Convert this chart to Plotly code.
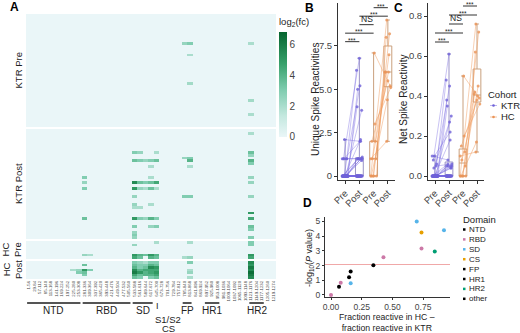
import plotly.graph_objects as go
import numpy as np

W, H = 520, 333
def px(x): return x / W
def py(y): return 1 - y / H

# ---------------- Panel A data ----------------
PEPTIDES = ["1-56","29-84","57-112","85-140","113-168","141-196","169-224","197-252","225-280",
            "253-308","281-336","309-364","337-392","365-420","393-448","421-476","449-504",
            "477-532","505-560","533-588","561-616","589-644","617-672","645-700","673-728",
            "701-756","729-784","757-812","785-840","813-868","841-896","869-924","897-952",
            "925-980","953-1008","981-1036","1009-1064","1037-1092","1065-1120","1093-1148",
            "1121-1176","1149-1204","1177-1232","1205-1260","1219-1274"]
N_KTR = 40
N_HC = 7
# (row, peptide index, log2 fold change)
KTR_PRE_CELLS = [(10,28,2.5),(10,29,3.0),(14,29,2.0),(24,29,2.2),(10,40,2.0),(30,40,2.2),(35,40,2.0)]
KTR_POST_CELLS = [
    (1,40,2.0),
    (8,19,3.0),(8,20,2.5),(8,23,2.0),(8,40,3.5),
    (9,40,2.5),
    (10,28,2.5),(10,29,3.0),
    (11,19,3.5),(11,20,3.0),(11,21,2.5),(11,22,3.0),(11,23,3.5),(11,29,4.0),(11,40,4.0),
    (12,40,3.0),
    (13,22,2.0),(13,29,2.0),
    (17,10,3.0),(17,22,2.0),(17,40,2.5),
    (19,10,2.5),(19,19,5.5),(19,20,3.5),(19,21,3.0),(19,22,3.5),(19,23,4.5),(19,40,2.5),
    (21,10,3.0),(21,19,5.0),(21,20,2.5),(21,21,2.0),(21,22,3.5),(21,23,2.0),
    (24,19,2.5),(24,28,3.0),(24,29,3.0),(24,40,2.5),
    (27,19,2.5),(27,22,2.0),
    (28,19,2.0),(28,20,2.0),
    (30,40,5.0),
    (32,10,3.5),(32,19,5.0),(32,20,3.0),(32,21,2.5),(32,22,4.0),(32,23,3.0),(32,40,4.5),
    (35,19,3.0),(35,22,2.5),(35,23,3.0),(35,40,3.5),
    (36,40,3.0),(37,19,2.5),(38,19,3.0),(39,19,2.5),(39,40,3.0)]
HC_PRE_CELLS = [
    (0,23,2.0),(0,29,2.0),(0,40,3.0),(1,19,2.5),(1,40,3.0),
    (5,10,2.5),(5,11,2.0),(5,19,5.0),(5,20,4.0),(5,21,3.5),(5,22,5.0),(5,23,4.0),(5,40,5.0),
    (6,19,4.5),(6,20,3.5),(6,22,4.0),(6,23,3.5),(6,28,2.0),(6,29,2.5),(6,40,4.5)]
HC_POST_CELLS = [
    (0,19,3.0),(0,20,2.5),(0,21,2.0),(0,22,3.0),(0,23,3.0),(0,29,3.0),(0,40,5.5),
    (1,10,3.5),(1,19,3.5),(1,20,3.0),(1,21,3.0),(1,22,4.0),(1,23,3.5),(1,40,5.0),
    (2,19,4.0),(2,20,3.0),(2,21,3.5),(2,22,5.5),(2,23,5.0),(2,40,6.0),
    (3,8,2.0),(3,9,2.5),(3,10,5.0),(3,11,3.0),(3,19,5.5),(3,20,4.0),(3,21,4.5),(3,22,4.5),(3,23,4.5),(3,29,2.0),(3,40,5.5),
    (4,9,3.0),(4,10,3.5),(4,19,6.0),(4,20,5.0),(4,21,4.0),(4,22,4.5),(4,23,5.0),(4,29,2.5),(4,40,6.5),
    (5,10,3.0),(5,19,4.5),(5,20,3.5),(5,21,4.0),(5,22,4.0),(5,23,4.5),(5,40,6.0),
    (6,19,3.5),(6,20,3.0),(6,22,3.0),(6,23,3.5),(6,29,2.0),(6,40,5.5)]
GROUP_LABELS = ["KTR Pre", "KTR Post", "HC<br>Pre", "HC<br>Post"]
DOMAINS = ["NTD", "RBD", "SD", "FP", "HR1", "HR2"]
DOMAIN_FIRST = [0, 10, 19, 28, 32, 40]
DOMAIN_LAST = [9, 18, 22, 29, 34, 42]
CLEAVAGE_PEPTIDE = 23.1

# ---------------- Panel B/C data ----------------
TIMEPOINTS = ["Pre", "Post", "Pre", "Post"]
KTR_PRE_UNIQUE = [0,0,0,0,0,0,0,0,0,0, 0,0,0,0,0,0,0,0,0,0, 0,0,0,0,0,0,0,0,1,1, 1,0,0,1,0,0,2.1,0,1,0]
KTR_POST_UNIQUE = [0,0,0,0,0,0,0,0,0,0, 0,0,0,0,0,0,0,0,0,1.1, 0,0.9,1,1,0,2.1,4,5.2,6.1,6.8, 1,1,3.8,1,1,5,2,1,2,0]
HC_PRE_UNIQUE = [0,0,0,0,1,1,2,2,3,0,7.1,1]
HC_POST_UNIQUE = [9,8.2,8,7,6,6,6,5.5,5.1,4.4,5.2,2]
KTR_PRE_NET = [0,0,0,0,0,0,0,0,0,0, 0,0,0,0,0,0,0,0,0,0, 0,0,0,0,0,0,0,0,0.06,0.08, 0.05,0,0,0.1,0,0,0.1,0,0.04,0]
KTR_POST_NET = [0,0,0,0,0,0,0,0,0,0, 0,0,0,0,0,0,0,0,0,0.05, 0,0.04,0.06,0.05,0,0.18,0.38,0.45,0.48,0.61, 0.06,0.05,0.3,0.08,0.04,0.35,0.22,0.05,0.27,0]
HC_PRE_NET = [0,0,0,0,0.05,0.08,0.12,0.15,0.2,0,0.5,0.1]
HC_POST_NET = [0.76,0.72,0.62,0.45,0.42,0.40,0.41,0.38,0.36,0.17,0.39,0.12]
COMPARISONS = [(0,1),(0,2),(1,2),(1,3),(2,3)]
SIG_LABELS = ["***","***","NS","***","***"]
COHORTS = ["KTR", "HC"]

# ---------------- Panel D data ----------------
D_DOMAIN = ["RBD","RBD","other","NTD","HR1","SD","FP","RBD","SD","CS","RBD","HR2","SD"]
D_DIFF = [0.0,0.079,0.065,0.147,0.16,0.16,0.345,0.427,0.698,0.737,0.737,0.845,0.92]
D_LOGP = [0.0,0.83,0.56,1.2,1.6,0.8,2.02,2.56,5.0,4.25,3.15,2.95,4.4]
D_THRESHOLD = 2.07
LEGEND_DOMAINS = ["NTD","RBD","SD","CS","FP","HR1","HR2","other"]
DOMAIN_COLORS = {"NTD":"#000000","RBD":"#CC79A7","SD":"#56B4E9","CS":"#E69F00",
                 "FP":"#000000","HR1":"#000000","HR2":"#009E73","other":"#000000"}

FONT = "Liberation Sans, Arial, sans-serif"
TXT = "#222222"
TICK = "#444444"
KTR_LINE = "rgba(120,105,225,0.5)"
KTR_PT = "#6F62D8"
HC_LINE = "rgba(240,155,95,0.6)"
HC_PT = "#EA9458"
KTR_BOX = "#9A93C6"
HC_BOX = "#C9A07E"

COLORSCALE = [[0, "#EAF6F8"], [0.2, "#C4E8DF"], [0.45, "#7FCCAF"], [0.7, "#37A06A"], [1, "#05652F"]]

fig = go.Figure()
annotations = []
shapes = []

def ann(x, y, text, size=10, xref="paper", yref="paper", xanchor="center", yanchor="middle",
        angle=0, color=TXT, yshift=0):
    annotations.append(dict(x=x, y=y, xref=xref, yref=yref, text=text, showarrow=False,
                            xanchor=xanchor, yanchor=yanchor, textangle=angle, yshift=yshift,
                            font=dict(size=size, color=color, family=FONT)))

# ---------------- Panel A ----------------
ncol = len(PEPTIDES)
groups = [(KTR_PRE_CELLS, N_KTR, "y", (127, 14)),
          (KTR_POST_CELLS, N_KTR, "y2", (239, 129)),
          (HC_PRE_CELLS, N_HC, "y3", (259, 241)),
          (HC_POST_CELLS, N_HC, "y4", (279, 261))]
for gi, (cells, nrow, yref, dom) in enumerate(groups):
    z = np.zeros((nrow, ncol))
    for r, c, v in cells:
        z[r, c] = v
    fig.add_trace(go.Heatmap(
        z=z, x=list(range(ncol)), y=list(range(nrow)), xaxis="x", yaxis=yref,
        colorscale=COLORSCALE, zmin=0, zmax=6.8, showscale=(gi == 0), hoverinfo="skip",
        colorbar=dict(x=px(279), xanchor="left", y=py(15), yanchor="top", len=(137 - 15) / H,
                      thickness=8, xpad=0, ypad=0, outlinewidth=0, ticks="",
                      tickvals=[0, 2, 4, 6], tickfont=dict(size=10, color=TICK, family=FONT),
                      title=dict(text="log<sub>2</sub>(fc)", side="top",
                                 font=dict(size=9.5, color=TXT, family=FONT)))))
    name = "yaxis" if gi == 0 else f"yaxis{gi+1}"
    fig.layout[name] = dict(domain=[py(dom[0]), py(dom[1])], anchor="x",
                            range=[nrow - 0.5, -0.5], showticklabels=False, showgrid=False,
                            zeroline=False, ticks="", showline=False)
    cy = (dom[0] + dom[1]) / 2
    lab = GROUP_LABELS[gi]
    ann(px(12 if "<br>" in lab else 18), py(cy), lab, size=9.5, angle=-90)

fig.layout.xaxis = dict(domain=[px(26), px(276)], anchor="y4", range=[-0.5, ncol - 0.5],
                        tickvals=list(range(ncol)), ticktext=PEPTIDES, tickangle=-90,
                        tickfont=dict(size=4.3, color=TICK, family=FONT), ticks="",
                        showgrid=False, zeroline=False, showline=False)

for name, a, b in zip(DOMAINS, DOMAIN_FIRST, DOMAIN_LAST):
    shapes.append(dict(type="line", xref="x", yref="paper", x0=a - 0.3, x1=b + 0.3,
                       y0=py(303), y1=py(303), line=dict(color="#555555", width=2)))
    ann((a + b) / 2, py(310), name, xref="x")
ann(CLEAVAGE_PEPTIDE, py(306), "I", size=9, xref="x")
ann(CLEAVAGE_PEPTIDE + 2, py(319), "S1/S2", size=9.5, xref="x")
ann(CLEAVAGE_PEPTIDE + 2, py(328.5), "CS", size=9.5, xref="x")

# ---------------- Panels B and C ----------------
def jit(i, k):
    return (((i * 5 + k * 3) % 11) - 5) * 0.04

panels = [("x5", "y5", KTR_PRE_UNIQUE, KTR_POST_UNIQUE, HC_PRE_UNIQUE, HC_POST_UNIQUE, 7.75, 0.49),
          ("x6", "y6", KTR_PRE_NET, KTR_POST_NET, HC_PRE_NET, HC_POST_NET, 0.67, 0.045)]
for pi, (xr, yr, kpre, kpost, hpre, hpost, base, step) in enumerate(panels):
    for vals, pos, col in [(kpre, 0, KTR_BOX), (kpost, 1, KTR_BOX), (hpre, 2, HC_BOX), (hpost, 3, HC_BOX)]:
        fig.add_trace(go.Box(y=vals, x0=pos, xaxis=xr, yaxis=yr, width=0.55, boxpoints=False,
                             fillcolor="rgba(0,0,0,0)", line=dict(color=col, width=1),
                             showlegend=False, hoverinfo="skip"))
    for cname, pre, post, p0, lc, pc in [("KTR", kpre, kpost, 0, KTR_LINE, KTR_PT),
                                         ("HC", hpre, hpost, 2, HC_LINE, HC_PT)]:
        xs, ys = [], []
        for i, (a, b) in enumerate(zip(pre, post)):
            xs += [p0 + jit(i, 0), p0 + 1 + jit(i, 1), None]
            ys += [a, b, None]
        fig.add_trace(go.Scatter(x=xs, y=ys, xaxis=xr, yaxis=yr, mode="lines",
                                 line=dict(color=lc, width=0.8), showlegend=False, hoverinfo="skip"))
        fig.add_trace(go.Scatter(x=xs, y=ys, xaxis=xr, yaxis=yr, mode="markers",
                                 marker=dict(color=pc, size=3, opacity=0.8), showlegend=False,
                                 hoverinfo="skip"))
    for k, ((a, b), lab) in enumerate(zip(COMPARISONS, SIG_LABELS)):
        h = base + step * k
        shapes.append(dict(type="line", xref=xr, yref=yr, x0=a, x1=b, y0=h, y1=h,
                           line=dict(color="#333333", width=1)))
        if lab == "NS":
            ann((a + b) / 2, h, lab, size=8.5, xref=xr, yref=yr, yanchor="bottom", yshift=-1)
        else:
            ann((a + b) / 2, h, lab, size=6.5, xref=xr, yref=yr, yanchor="bottom", yshift=-4)

axis_common = dict(showgrid=False, zeroline=False, showline=True, linecolor="#333333", linewidth=1,
                   ticks="outside", ticklen=3, tickcolor="#333333",
                   tickfont=dict(size=9.5, color=TICK, family=FONT))
fig.layout.xaxis5 = dict(axis_common, domain=[px(338), px(395)], anchor="y5", range=[-0.5, 3.5],
                         tickvals=[0, 1, 2, 3], ticktext=TIMEPOINTS, tickangle=-45)
fig.layout.yaxis5 = dict(axis_common, domain=[py(180), py(3)], anchor="x5", range=[-0.23, 9.98],
                         tickvals=[0, 2.5, 5, 7.5], ticktext=["0", "2.5", "5.0", "7.5"])
fig.layout.xaxis6 = dict(axis_common, domain=[px(428), px(484)], anchor="y6", range=[-0.5, 3.5],
                         tickvals=[0, 1, 2, 3], ticktext=TIMEPOINTS, tickangle=-45)
fig.layout.yaxis6 = dict(axis_common, domain=[py(180), py(3)], anchor="x6", range=[-0.02, 0.865],
                         tickvals=[0, 0.2, 0.4, 0.6, 0.8], ticktext=["0.0", "0.2", "0.4", "0.6", "0.8"])

ann(px(315), py(100), "Unique Spike Reactivities", angle=-90)
ann(px(403), py(100), "Net Spike Reactivity", angle=-90)

# Cohort legend
ann(px(486), py(94), "Cohort", size=9.5, xanchor="left")
for k, (cname, lc, pc) in enumerate([("KTR", KTR_LINE, KTR_PT), ("HC", HC_LINE, HC_PT)]):
    yy = 105.5 + 11.5 * k
    shapes.append(dict(type="line", xref="paper", yref="paper", x0=px(490), x1=px(497),
                       y0=py(yy), y1=py(yy), line=dict(color=lc, width=1)))
    shapes.append(dict(type="circle", xref="paper", yref="paper", x0=px(492.2), x1=px(494.8),
                       y0=py(yy - 1.3), y1=py(yy + 1.3), fillcolor=pc, line=dict(width=0)))
    ann(px(498.5), py(yy), cname, size=9.5, xanchor="left")

# ---------------- Panel D ----------------
for dname in LEGEND_DOMAINS:
    xs = [x for x, d in zip(D_DIFF, D_DOMAIN) if d == dname]
    ys = [y for y, d in zip(D_LOGP, D_DOMAIN) if d == dname]
    fig.add_trace(go.Scatter(x=xs, y=ys, xaxis="x7", yaxis="y7", mode="markers",
                             marker=dict(color=DOMAIN_COLORS[dname], size=4), showlegend=False,
                             hoverinfo="skip"))
shapes.append(dict(type="line", xref="x7 domain", yref="y7", x0=0, x1=1, y0=D_THRESHOLD, y1=D_THRESHOLD,
                   line=dict(color="#F0A8A8", width=1), layer="below"))
axis_d = dict(axis_common, ticklen=2, tickfont=dict(size=8.5, color=TICK, family=FONT))
fig.layout.xaxis7 = dict(axis_d, domain=[px(325), px(450)], anchor="y7", range=[-0.049, 0.969],
                         tickvals=[0, 0.25, 0.5, 0.75], ticktext=["0.00", "0.25", "0.50", "0.75"])
fig.layout.yaxis7 = dict(axis_d, domain=[py(297), py(217)], anchor="x7", range=[-0.14, 5.3],
                         tickvals=[0, 1, 2, 3, 4, 5])
ann(px(387), py(322.5), "Fraction reactive in HC –<br>fraction reactive in KTR", size=8.7)
ann(px(309), py(258), "-log<sub>10</sub>(<i>P</i> value)", size=9, angle=-90)
ann(px(461), py(219), "Domain", size=9.5, xanchor="left")
for k, dname in enumerate(LEGEND_DOMAINS):
    yy = 229.5 + 9.9 * k
    shapes.append(dict(type="rect", xref="paper", yref="paper", x0=px(463), x1=px(465.5),
                       y0=py(yy - 1.25), y1=py(yy + 1.25), fillcolor=DOMAIN_COLORS[dname], line=dict(width=0)))
    ann(px(467), py(yy), dname, size=8, xanchor="left")

# Panel letters
for letter, (lx, ly) in {"A": (14, 7), "B": (309, 8), "C": (398, 8), "D": (307, 203)}.items():
    ann(px(lx), py(ly), f"<b>{letter}</b>", size=12, color="#000000")

fig.update_layout(template="none", width=W, height=H, margin=dict(l=0, r=0, t=0, b=0),
                  paper_bgcolor="white", plot_bgcolor="white", showlegend=False,
                  boxmode="overlay", annotations=annotations, shapes=shapes,
                  font=dict(family=FONT, color=TXT))
fig.write_html("out.html", config={"displayModeBar": False},
               post_script="document.body.style.margin='0';")
